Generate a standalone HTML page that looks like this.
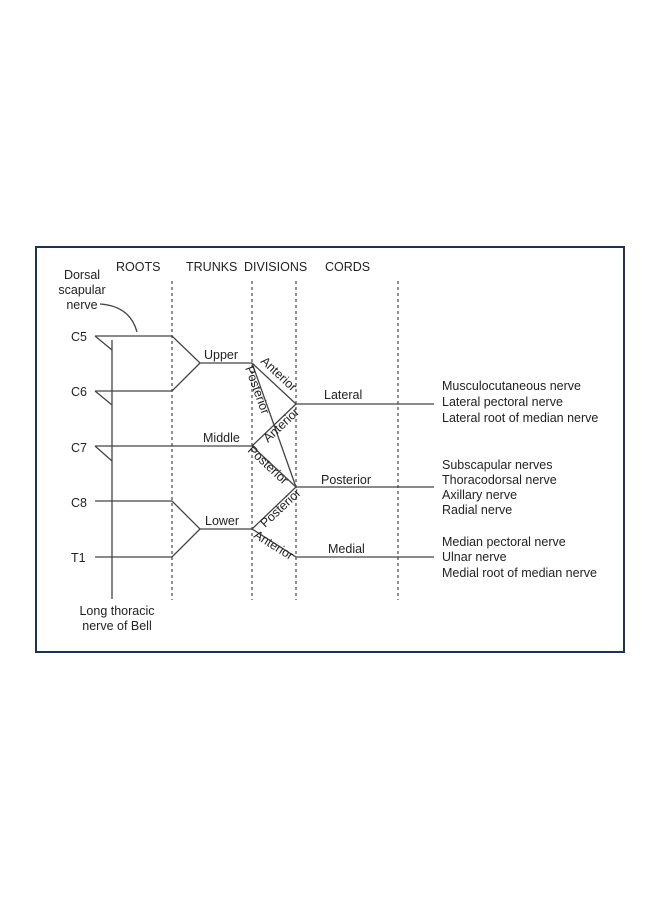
<!DOCTYPE html>
<html><head><meta charset="utf-8"><style>
html,body{margin:0;padding:0;background:#fff;}
svg{display:block}
text{font-family:"Liberation Sans",Arial,sans-serif;font-size:12.5px;fill:#222;}
</style></head><body>
<svg width="660" height="900" viewBox="0 0 660 900" xmlns="http://www.w3.org/2000/svg">
<rect x="36" y="247" width="588" height="405" fill="#fff" stroke="#1c3355" stroke-width="2"/>
<g stroke="#555" stroke-width="1.3" stroke-dasharray="3,3">
<line x1="172" y1="281" x2="172" y2="600"/>
<line x1="252" y1="281" x2="252" y2="600"/>
<line x1="296" y1="281" x2="296" y2="600"/>
<line x1="398" y1="281" x2="398" y2="600"/>
</g>
<g stroke="#444" stroke-width="1.3" fill="none">
<line x1="112" y1="340" x2="112" y2="599"/>
<line x1="95" y1="336" x2="112" y2="350"/>
<line x1="95" y1="391" x2="112" y2="405"/>
<line x1="95" y1="446" x2="112" y2="461"/>
<polyline points="95,336 172,336 200,363 252,363"/>
<polyline points="95,391 172,391 200,363"/>
<line x1="95" y1="446" x2="252" y2="446"/>
<polyline points="95,501 172,501 200,529 252,529"/>
<polyline points="95,557 172,557 200,529"/>
<line x1="252" y1="363" x2="296" y2="404"/>
<line x1="252" y1="363" x2="296" y2="487"/>
<line x1="252" y1="446" x2="296" y2="404"/>
<line x1="252" y1="446" x2="296" y2="487"/>
<line x1="252" y1="529" x2="296" y2="487"/>
<line x1="252" y1="529" x2="296" y2="557"/>
<line x1="296" y1="404" x2="434" y2="404"/>
<line x1="296" y1="487" x2="434" y2="487"/>
<line x1="296" y1="557" x2="434" y2="557"/>
<path d="M100,304 Q130,306 137,332"/>
</g>
<text x="116" y="271">ROOTS</text>
<text x="186" y="271">TRUNKS</text>
<text x="244" y="271">DIVISIONS</text>
<text x="325" y="271">CORDS</text>
<text x="82" y="279" text-anchor="middle">Dorsal</text>
<text x="82" y="294" text-anchor="middle">scapular</text>
<text x="82" y="309" text-anchor="middle">nerve</text>
<text x="71" y="341">C5</text>
<text x="71" y="396">C6</text>
<text x="71" y="452">C7</text>
<text x="71" y="507">C8</text>
<text x="71" y="562">T1</text>
<text x="204" y="359">Upper</text>
<text x="203" y="442">Middle</text>
<text x="205" y="525">Lower</text>
<text x="324" y="399">Lateral</text>
<text x="321" y="484">Posterior</text>
<text x="328" y="553">Medial</text>
<text x="117" y="615" text-anchor="middle">Long thoracic</text>
<text x="117" y="630" text-anchor="middle">nerve of Bell</text>
<text transform="translate(260,362) rotate(43)" font-size="11">Anterior</text>
<text transform="translate(245,368) rotate(70)" font-size="11">Posterior</text>
<text transform="translate(268,443) rotate(-43)" font-size="11">Anterior</text>
<text transform="translate(247,451) rotate(43)" font-size="11">Posterior</text>
<text transform="translate(265,528) rotate(-43)" font-size="11">Posterior</text>
<text transform="translate(253,537) rotate(32)" font-size="11">Anterior</text>
<text x="442" y="390">Musculocutaneous nerve</text>
<text x="442" y="406">Lateral pectoral nerve</text>
<text x="442" y="422">Lateral root of median nerve</text>
<text x="442" y="469">Subscapular nerves</text>
<text x="442" y="484">Thoracodorsal nerve</text>
<text x="442" y="499">Axillary nerve</text>
<text x="442" y="514">Radial nerve</text>
<text x="442" y="546">Median pectoral nerve</text>
<text x="442" y="561">Ulnar nerve</text>
<text x="442" y="577">Medial root of median nerve</text>
</svg>
</body></html>
